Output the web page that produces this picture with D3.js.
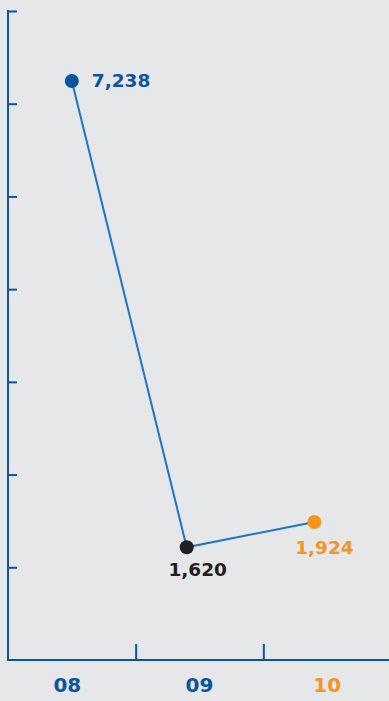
<!DOCTYPE html>
<html><head><meta charset="utf-8">
<script src="https://cdn.jsdelivr.net/npm/d3@7"></script>
<style>
html,body{margin:0;padding:0;background:#e6e7e9;}
svg{display:block;}
</style></head>
<body>
<svg id="c" width="389" height="701"></svg>
<script>
// Data
const categories = ["08", "09", "10"];
const values = [7238, 1620, 1924];
const labels = ["7,238", "1,620", "1,924"];
// point timing within each year (fractional year index)
const pointPos = [0.0, -0.1, -0.1];
const labelOffset = [-0.035, 0, 0];
const pointColors = ["#0a54a0", "#231f20", "#f7941d"];
const categoryColors = ["#0a54a0", "#0a54a0", "#f7941d"];
const yDomain = [262, 8081];
const yTickCount = 7;

(function () {
const svg = d3.select("#c");
const W = 389, H = 701;
const axisColor = "#0a54a0";
const lineColor = "#1b76c4";
const mLeft = 8, mRight = 391, mTop = 11, mBottom = 660;

const x = d3.scaleLinear().domain([-0.5, categories.length - 0.5]).range([mLeft, mRight]);
const y = d3.scaleLinear().domain(yDomain).range([mBottom, mTop]);

// y axis ticks (inside)
const yTicks = d3.range(0, yTickCount + 1).map(i => yDomain[0] + i * (yDomain[1] - yDomain[0]) / yTickCount).slice(1);
const yAxis = d3.axisRight(y).tickValues(yTicks).tickSize(9).tickFormat("");
const gy = svg.append("g").attr("transform", `translate(${mLeft},0)`).call(yAxis);
gy.select(".domain").remove();
gy.selectAll("line").attr("stroke", axisColor).attr("stroke-width", 2);
svg.append("line").attr("x1", mLeft).attr("x2", mLeft).attr("y1", mTop - 1).attr("y2", mBottom + 1)
  .attr("stroke", axisColor).attr("stroke-width", 2);

// x axis
const xTicks = d3.range(0.5, categories.length - 1, 1);
const xAxis = d3.axisTop(x).tickValues(xTicks).tickSize(16).tickFormat("");
const gx = svg.append("g").attr("transform", `translate(0,${mBottom})`).call(xAxis);
gx.select(".domain").remove();
gx.selectAll("line").attr("stroke", axisColor).attr("stroke-width", 2);
svg.append("line").attr("x1", mLeft - 1).attr("x2", W).attr("y1", mBottom).attr("y2", mBottom)
  .attr("stroke", axisColor).attr("stroke-width", 2);

// category labels
svg.selectAll("text.cat").data(categories).join("text")
  .attr("class", "cat")
  .attr("x", (d, i) => x(i + labelOffset[i]))
  .attr("y", 692)
  .attr("text-anchor", "middle")
  .attr("font-family", "DejaVu Sans, sans-serif")
  .attr("font-weight", "bold")
  .attr("font-size", 20)
  .attr("fill", (d, i) => categoryColors[i])
  .text(d => d);

// line
const pts = values.map((v, i) => [x(i + pointPos[i]), y(v)]);
svg.append("path")
  .attr("d", d3.line()(pts))
  .attr("fill", "none")
  .attr("stroke", lineColor)
  .attr("stroke-width", 2);

svg.selectAll("circle.pt").data(values).join("circle")
  .attr("class", "pt")
  .attr("cx", (d, i) => x(i + pointPos[i]))
  .attr("cy", d => y(d))
  .attr("r", 7)
  .attr("fill", (d, i) => pointColors[i]);

// value labels
const labelPlace = [
  {dx: 20, dy: 6, anchor: "start"},
  {dx: 11, dy: 29, anchor: "middle"},
  {dx: 10, dy: 32, anchor: "middle"}
];
svg.selectAll("text.val").data(values).join("text")
  .attr("class", "val")
  .attr("x", (d, i) => x(i + pointPos[i]) + labelPlace[i].dx)
  .attr("y", d => y(d))
  .attr("dy", (d, i) => labelPlace[i].dy)
  .attr("text-anchor", (d, i) => labelPlace[i].anchor)
  .attr("font-family", "DejaVu Sans, sans-serif")
  .attr("font-weight", "bold")
  .attr("font-size", 18.5)
  .attr("fill", (d, i) => pointColors[i])
  .text((d, i) => labels[i]);
})();
</script>
</body></html>
